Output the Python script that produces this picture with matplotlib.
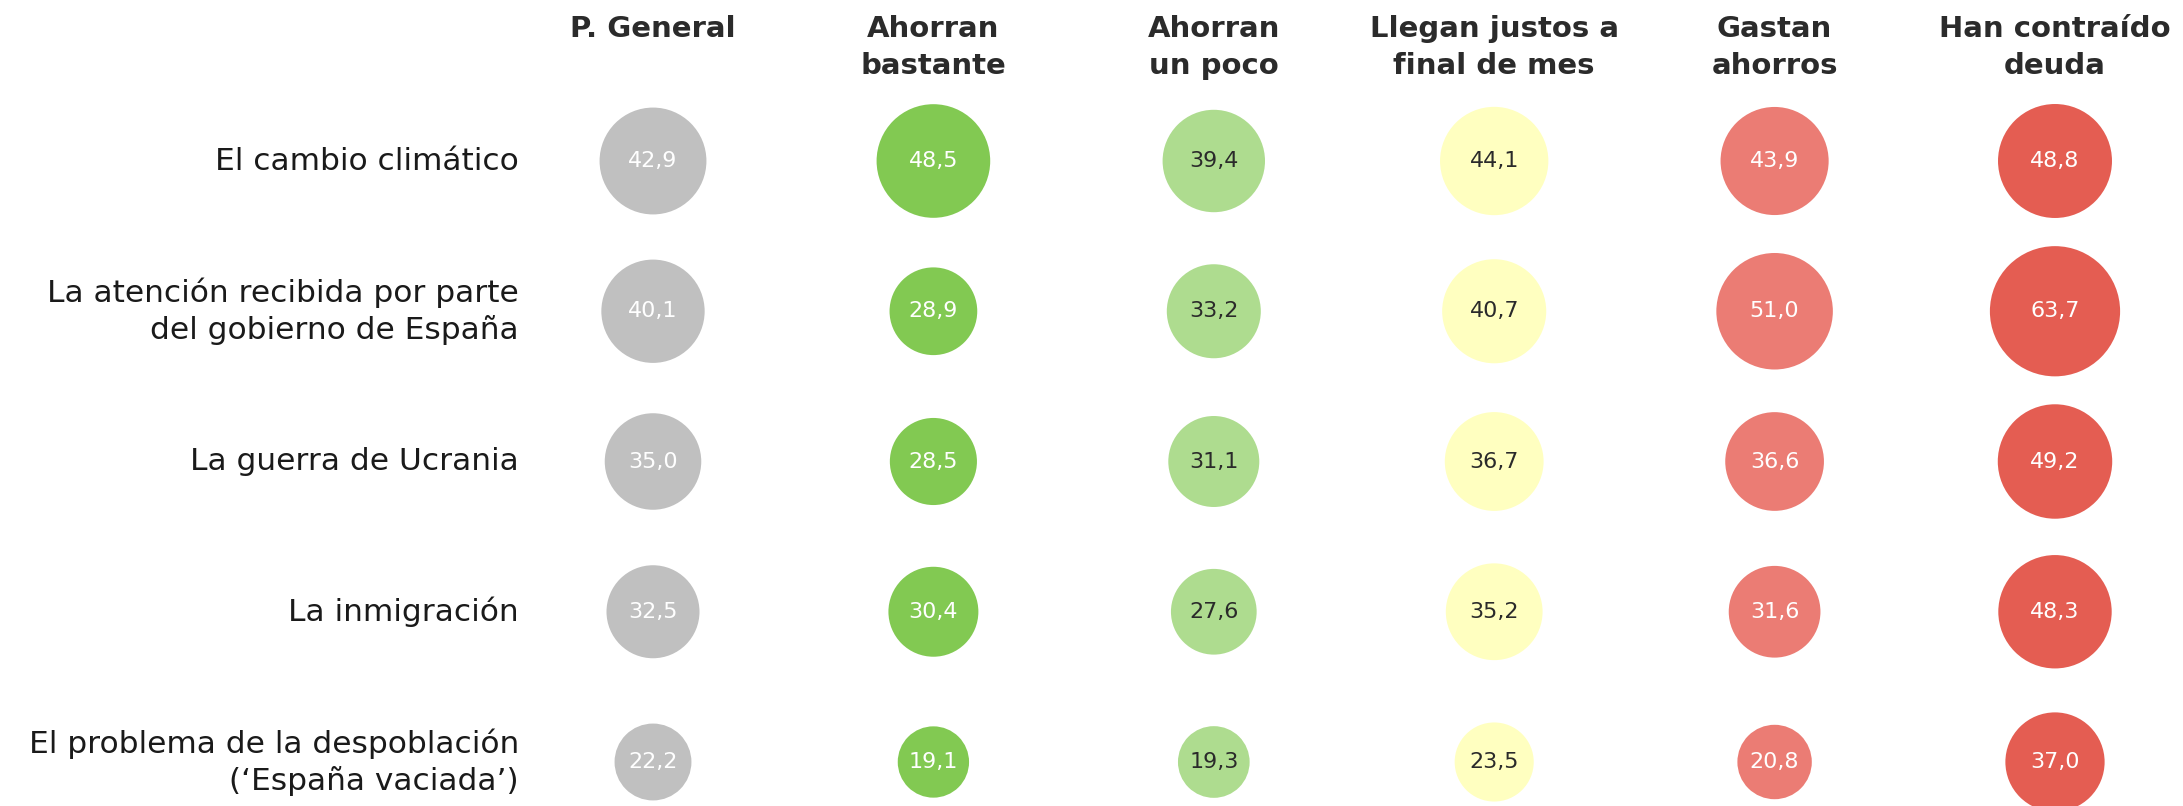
import matplotlib
matplotlib.use('Agg')
import matplotlib.pyplot as plt
import numpy as np

# Column headers and row topics
GROUPS = ['P. General', 'Ahorran\nbastante', 'Ahorran\nun poco',
          'Llegan justos a\nfinal de mes', 'Gastan\nahorros', 'Han contraído\ndeuda']
TOPICS = ['El cambio climático',
          'La atención recibida por parte\ndel gobierno de España',
          'La guerra de Ucrania',
          'La inmigración',
          'El problema de la despoblación\n(‘España vaciada’)']

p_general = [42.9, 40.1, 35.0, 32.5, 22.2]
ahorran_bastante = [48.5, 28.9, 28.5, 30.4, 19.1]
ahorran_poco = [39.4, 33.2, 31.1, 27.6, 19.3]
llegan_justos = [44.1, 40.7, 36.7, 35.2, 23.5]
gastan_ahorros = [43.9, 51.0, 36.6, 31.6, 20.8]
deuda = [48.8, 63.7, 49.2, 48.3, 37.0]

COLORS = ['#c0c0c0', '#82c952', '#aedc8f', '#ffffc0', '#eb7c74', '#e45d52']
TEXT_COLORS = ['white', 'white', '#2a2a2a', '#2a2a2a', 'white', 'white']

plt.rcParams['font.family'] = ['DejaVu Sans']

series = [p_general, ahorran_bastante, ahorran_poco, llegan_justos, gastan_ahorros, deuda]

fig = plt.figure(figsize=(21.83, 8.06), dpi=100)
ax = fig.add_axes([0, 0, 1, 1])
# one column = 280.4 px, one row = 150.25 px
ax.set_xlim(-653 / 280.4, (2183 - 653) / 280.4)
ax.set_ylim((806 - 161) / 150.25, -161 / 150.25)
ax.axis('off')

rows = np.arange(len(TOPICS))
for i, vals in enumerate(series):
    xs = np.full(len(vals), i)
    ax.scatter(xs, rows, s=np.array(vals) * 138, color=COLORS[i], edgecolors='none', zorder=2)
    for j, v in enumerate(vals):
        ax.text(i, j, f'{v:.1f}'.replace('.', ','), ha='center', va='center',
                fontsize=16, color=TEXT_COLORS[i], zorder=3)
    ax.text(i, -0.975, GROUPS[i], ha='center', va='top', fontsize=21,
            fontweight='bold', color='#2b2b2b', linespacing=1.42)

for j, t in enumerate(TOPICS):
    ax.text(-0.478, j, t, ha='right', va='center', fontsize=22.5, color='#1a1a1a',
            linespacing=1.3)

fig.savefig('out.png', dpi=100, facecolor='white')
plt.close(fig)
